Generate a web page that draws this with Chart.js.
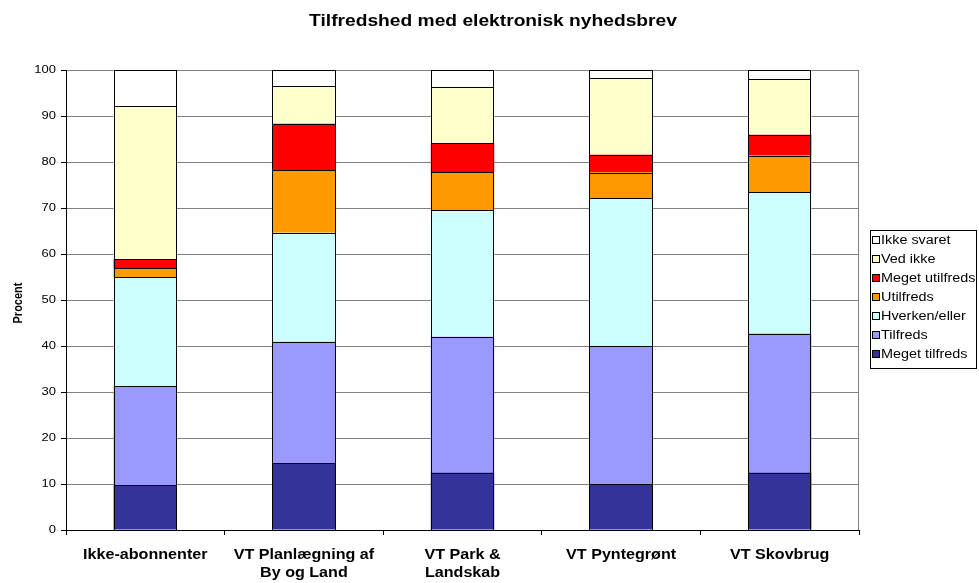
<!DOCTYPE html>
<html>
<head>
<meta charset="utf-8">
<script src="https://cdn.jsdelivr.net/npm/chart.js@4/dist/chart.umd.min.js"></script>
<style>
  html, body { margin: 0; padding: 0; background: #fff; }
  canvas { display: block; }
</style>
</head>
<body>
<canvas id="c" width="979" height="583"></canvas>
<script>
// Survey: satisfaction with the electronic newsletter, in percent per group
const chartTitle = 'Tilfredshed med elektronisk nyhedsbrev';
const yAxisTitle = 'Procent';
const categories = [
  'Ikke-abonnenter',
  ['VT Planlægning af', 'By og Land'],
  ['VT Park &', 'Landskab'],
  'VT Pyntegrønt',
  'VT Skovbrug'
];
const seriesNames = ['Meget tilfreds', 'Tilfreds', 'Hverken/eller', 'Utilfreds', 'Meget utilfreds', 'Ved ikke', 'Ikke svaret'];
const megetTilfreds  = [9.8, 14.5, 12.5, 10.0, 12.5];
const tilfreds       = [21.5, 26.4, 29.5, 30.0, 30.2];
const hverkenEller   = [23.6, 23.7, 27.5, 32.2, 30.7];
const utilfreds      = [2.0, 13.6, 8.3, 5.5, 8.0];
const megetUtilfreds = [2.0, 10.1, 6.3, 3.9, 4.5];
const vedIkke        = [33.3, 8.2, 12.3, 16.7, 12.1];
const ikkeSvaret     = [7.8, 3.5, 3.6, 1.7, 2.0];
const yMin = 0, yMax = 100, yStep = 10;

const seriesValues = [megetTilfreds, tilfreds, hverkenEller, utilfreds, megetUtilfreds, vedIkke, ikkeSvaret];
const seriesColors = ['#333399', '#9999FF', '#CCFFFF', '#FF9900', '#FF0000', '#FFFFCC', '#FFFFFF'];

const FONT = '"Liberation Sans", Arial, Helvetica, sans-serif';

// Text drawn with a slight horizontal widening, like the original export
function wideText(ctx, text, x, y, font, sx, align, baseline, angle) {
  ctx.save();
  ctx.translate(x, y);
  ctx.scale(sx, 1);
  if (angle) ctx.rotate(angle);
  ctx.font = font;
  ctx.textAlign = align;
  ctx.textBaseline = baseline;
  ctx.fillStyle = '#000';
  ctx.fillText(text, 0, 0);
  ctx.restore();
}

// Grey right edge of the plot area
const framePlugin = {
  id: 'frame',
  beforeDatasetsDraw(chart) {
    const { ctx, chartArea } = chart;
    ctx.save();
    ctx.strokeStyle = '#808080';
    ctx.lineWidth = 1;
    ctx.beginPath();
    const x = Math.round(chartArea.right) - 0.5;
    ctx.moveTo(x, chartArea.top);
    ctx.lineTo(x, chartArea.bottom);
    ctx.stroke();
    ctx.restore();
  }
};

// Crisp black outlines around every bar segment, snapped to whole pixels
const outlinePlugin = {
  id: 'outlines',
  afterDatasetsDraw(chart) {
    const { ctx } = chart;
    ctx.save();
    ctx.strokeStyle = '#000';
    ctx.lineWidth = 1;
    chart.data.datasets.forEach((d, di) => {
      const meta = chart.getDatasetMeta(di);
      meta.data.forEach(el => {
        const p = el.getProps(['x', 'y', 'base', 'width'], true);
        const L = Math.round(p.x - p.width / 2);
        const R = Math.round(p.x + p.width / 2);
        const T = Math.round(Math.min(p.y, p.base));
        const B = Math.round(Math.max(p.y, p.base));
        ctx.strokeRect(L + 0.5, T + 0.5, R - L - 1, B - T);
      });
    });
    ctx.restore();
  }
};

const textPlugin = {
  id: 'texts',
  afterDraw(chart) {
    const { ctx, chartArea, scales } = chart;

    // Title
    wideText(ctx, chartTitle, 493, 26, 'bold 16px ' + FONT, 1.2, 'center', 'alphabetic');

    // Y axis title
    wideText(ctx, yAxisTitle, 18, 303, 'bold 11px ' + FONT, 1.2, 'center', 'middle', -Math.PI / 2);

    // Y tick labels
    scales.y.ticks.forEach(t => {
      const y = scales.y.getPixelForValue(t.value);
      wideText(ctx, String(t.value), chartArea.left - 10, y, '11.5px ' + FONT, 1.13, 'right', 'middle');
    });

    // Category labels
    categories.forEach((label, i) => {
      const x = scales.x.getPixelForValue(i);
      const lines = Array.isArray(label) ? label : [label];
      lines.forEach((line, j) => {
        wideText(ctx, line, x, chartArea.bottom + 25 + j * 18, 'bold 14px ' + FONT, 1.15, 'center', 'middle');
      });
    });

    // Legend (top entry = top of the stack)
    ctx.save();
    ctx.strokeStyle = '#000';
    ctx.lineWidth = 1;
    ctx.fillStyle = '#fff';
    ctx.fillRect(870, 230, 107, 138);
    ctx.strokeRect(870.5, 230.5, 106, 138);
    const ds = chart.data.datasets.slice().reverse();
    ds.forEach((d, i) => {
      const cy = 240 + i * 19;
      ctx.fillStyle = d.backgroundColor;
      ctx.fillRect(873, cy - 3, 6, 6);
      ctx.strokeStyle = '#000';
      ctx.strokeRect(872.5, cy - 3.5, 7, 7);
      wideText(ctx, d.label, 881, cy + 0.5, '12px ' + FONT, 1.2, 'left', 'middle');
    });
    ctx.restore();
  }
};

new Chart(document.getElementById('c'), {
  type: 'bar',
  data: {
    labels: categories,
    datasets: seriesNames.map((name, k) => ({
      label: name,
      data: seriesValues[k],
      backgroundColor: seriesColors[k],
      borderWidth: 0,
      barPercentage: 0.4,
      categoryPercentage: 1.0
    }))
  },
  options: {
    responsive: false,
    animation: false,
    devicePixelRatio: 1,
    layout: { padding: { top: 70, right: 120, bottom: 0, left: 0 } },
    plugins: {
      legend: { display: false },
      title: { display: false },
      tooltip: { enabled: false }
    },
    scales: {
      x: {
        stacked: true,
        ticks: { display: false },
        grid: { drawOnChartArea: false, drawTicks: true, tickLength: 5, tickColor: '#000', offset: true },
        border: { color: '#000', width: 1 },
        afterFit(s) { s.height = 53; }
      },
      y: {
        stacked: true,
        min: yMin,
        max: yMax,
        ticks: { stepSize: yStep, display: false },
        grid: { color: '#808080', tickColor: '#000', tickLength: 5, drawTicks: true },
        border: { color: '#000', width: 1 },
        afterFit(s) { s.width = 66; }
      }
    }
  },
  plugins: [framePlugin, outlinePlugin, textPlugin]
});
</script>
</body>
</html>
